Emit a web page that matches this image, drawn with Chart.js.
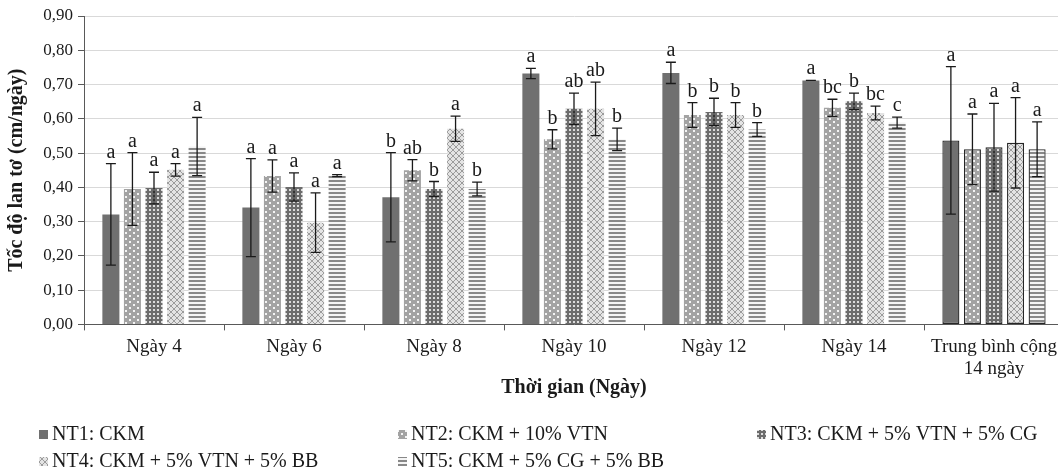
<!DOCTYPE html>
<html>
<head>
<meta charset="utf-8">
<script src="https://cdn.jsdelivr.net/npm/chart.js@4.4.1/dist/chart.umd.min.js"></script>
<style>
  html, body { margin: 0; padding: 0; background: #fff; overflow: hidden; }
  #chart { display: block; }
</style>
</head>
<body>
<canvas id="chart" width="1080" height="475"></canvas>
<script>
// categories on x axis
var categories = ['Ngày 4', 'Ngày 6', 'Ngày 8', 'Ngày 10', 'Ngày 12', 'Ngày 14', ['Trung bình cộng', '14 ngày']];

// series labels
var seriesNames = ['NT1: CKM', 'NT2: CKM + 10% VTN', 'NT3: CKM + 5% VTN + 5% CG', 'NT4: CKM + 5% VTN + 5% BB', 'NT5: CKM + 5% CG + 5% BB'];

// mean values (cm/ngày)
var nt1 = [0.321, 0.341, 0.371, 0.732, 0.734, 0.712, 0.537];
var nt2 = [0.395, 0.433, 0.450, 0.540, 0.611, 0.632, 0.511];
var nt3 = [0.398, 0.401, 0.395, 0.629, 0.620, 0.651, 0.517];
var nt4 = [0.451, 0.297, 0.571, 0.629, 0.611, 0.617, 0.530];
var nt5 = [0.519, 0.434, 0.395, 0.540, 0.569, 0.589, 0.511];

// standard deviation (error bars)
var nt1Err = [0.148, 0.143, 0.130, 0.015, 0.031, 0.000, 0.215];
var nt2Err = [0.106, 0.047, 0.031, 0.028, 0.036, 0.025, 0.103];
var nt3Err = [0.046, 0.041, 0.022, 0.046, 0.040, 0.024, 0.128];
var nt4Err = [0.018, 0.087, 0.037, 0.078, 0.036, 0.020, 0.132];
var nt5Err = [0.085, 0.003, 0.020, 0.033, 0.020, 0.016, 0.080];

// significance letters
var nt1Sig = ['a', 'a', 'b', 'a', 'a', 'a', 'a'];
var nt2Sig = ['a', 'a', 'ab', 'b', 'b', 'bc', 'a'];
var nt3Sig = ['a', 'a', 'b', 'ab', 'b', 'b', 'a'];
var nt4Sig = ['a', 'a', 'a', 'ab', 'b', 'bc', 'a'];
var nt5Sig = ['a', 'a', 'b', 'b', 'b', 'c', 'a'];

// y axis ticks
var yTicks = [0, 0.1, 0.2, 0.3, 0.4, 0.5, 0.6, 0.7, 0.8, 0.9];

var serif = '"Liberation Serif", "Times New Roman", serif';

//make a small repeating fill
function makePattern(w, h, draw)
{
    var c = document.createElement('canvas');
    c.width = w;
    c.height = h;
    var g = c.getContext('2d');
    draw(g);
    return g.createPattern(c, 'repeat');
}

var fills = [
    '#707070',
    makePattern(8, 6, function (g) {
        g.fillStyle = '#a3a3a3'; g.fillRect(0, 0, 8, 6);
        g.fillStyle = '#f4f4f4'; g.fillRect(1, 1, 2, 2); g.fillRect(5, 4, 2, 2);
    }),
    makePattern(4, 4, function (g) {
        g.fillStyle = '#6c6c6c'; g.fillRect(0, 0, 4, 4);
        g.fillStyle = '#dcdcdc'; g.fillRect(1, 1, 2, 2);
    }),
    makePattern(6, 6, function (g) {
        g.fillStyle = '#e4e4e4'; g.fillRect(0, 0, 6, 6);
        g.strokeStyle = '#9c9c9c'; g.lineWidth = 1;
        g.beginPath();
        g.moveTo(0, 3); g.lineTo(3, 0); g.lineTo(6, 3); g.lineTo(3, 6); g.closePath();
        g.stroke();
    }),
    makePattern(4, 4, function (g) {
        g.fillStyle = '#f4f4f4'; g.fillRect(0, 0, 4, 4);
        g.fillStyle = '#888888'; g.fillRect(0, 0, 4, 2);
    })
];

var values = [nt1, nt2, nt3, nt4, nt5];
var errors = [nt1Err, nt2Err, nt3Err, nt4Err, nt5Err];
var letters = [nt1Sig, nt2Sig, nt3Sig, nt4Sig, nt5Sig];

var datasets = [];
for (var i = 0; i < values.length; i++) {
    datasets.push({
        label: seriesNames[i],
        data: values[i],
        backgroundColor: fills[i],
        borderColor: '#262626',
        borderWidth: [0, 0, 0, 0, 0, 0, 1.3], //only the average group is outlined
        borderSkipped: false,
        categoryPercentage: 0.77,
        barPercentage: 0.79
    });
}

// error bars + letters over each bar
var errorBarPlugin = {
    id: 'errorBars',
    afterDatasetsDraw: function (chart) {
        var ctx = chart.ctx;
        var y = chart.scales.y;
        ctx.save();
        ctx.strokeStyle = '#1a1a1a';
        ctx.lineWidth = 1.3;
        ctx.fillStyle = '#1a1a1a';
        ctx.font = '20px ' + serif;
        ctx.textAlign = 'center';
        ctx.textBaseline = 'alphabetic';
        for (var d = 0; d < chart.data.datasets.length; d++) {
            var meta = chart.getDatasetMeta(d);
            meta.data.forEach(function (bar, k) {
                var v = values[d][k];
                var e = errors[d][k];
                var top = y.getPixelForValue(v + e);
                var bot = y.getPixelForValue(v - e);
                ctx.beginPath();
                ctx.moveTo(bar.x, top); ctx.lineTo(bar.x, bot);
                ctx.moveTo(bar.x - 5, top); ctx.lineTo(bar.x + 5, top);
                ctx.moveTo(bar.x - 5, bot); ctx.lineTo(bar.x + 5, bot);
                ctx.stroke();
                ctx.fillText(letters[d][k], bar.x, top - 6);
            });
        }
        ctx.restore();
    }
};

// legend in two rows under the axis title
var legendPlugin = {
    id: 'bottomLegend',
    afterDraw: function (chart) {
        var ctx = chart.ctx;
        var cols = [39, 398, 757];
        var rows = [435, 462];
        ctx.save();
        ctx.font = '20px ' + serif;
        ctx.textBaseline = 'middle';
        ctx.textAlign = 'left';
        for (var i = 0; i < seriesNames.length; i++) {
            var x = cols[i % 3];
            var yy = rows[Math.floor(i / 3)];
            ctx.fillStyle = fills[i];
            ctx.fillRect(x, yy - 5, 9, 9);
            ctx.fillStyle = '#1a1a1a';
            ctx.fillText(seriesNames[i], x + 13, yy);
        }
        ctx.restore();
    }
};

new Chart(document.getElementById('chart'), {
    type: 'bar',
    data: {
        labels: categories,
        datasets: datasets
    },
    options: {
        responsive: false,
        animation: false,
        layout: { padding: { top: 16, right: 16, left: 0, bottom: 0 } },
        plugins: {
            legend: { display: false },
            tooltip: { enabled: false }
        },
        scales: {
            x: {
                grid: { display: true, drawOnChartArea: false, offset: true, tickLength: 6, color: '#595959' },
                border: { color: '#595959', width: 1 },
                ticks: {
                    color: '#1a1a1a',
                    font: { family: serif, size: 19, lineHeight: 1.15 },
                    padding: 6,
                    maxRotation: 0,
                    autoSkip: false
                },
                title: {
                    display: true,
                    text: 'Thời gian (Ngày)',
                    color: '#1a1a1a',
                    font: { family: serif, size: 20, weight: 'bold', lineHeight: 1.2 },
                    padding: { top: 0, bottom: 75 }
                },
                afterFit: function (s) { s.height = 150.6; }
            },
            y: {
                min: 0,
                max: 0.9,
                afterBuildTicks: function (s) {
                    s.ticks = yTicks.map(function (v) { return { value: v }; });
                },
                ticks: {
                    color: '#1a1a1a',
                    font: { family: serif, size: 17 },
                    padding: 5,
                    callback: function (v) { return v.toFixed(2).replace('.', ','); }
                },
                grid: { color: '#d9d9d9', tickColor: '#595959', tickLength: 6 },
                border: { color: '#595959', width: 1 },
                title: {
                    display: true,
                    text: 'Tốc độ lan tơ (cm/ngày)',
                    color: '#1a1a1a',
                    font: { family: serif, size: 20, weight: 'bold', lineHeight: 1.2 },
                    padding: { top: 5, bottom: 0 }
                },
                afterFit: function (s) { s.width = 84; }
            }
        }
    },
    plugins: [errorBarPlugin, legendPlugin]
});
</script>
</body>
</html>
